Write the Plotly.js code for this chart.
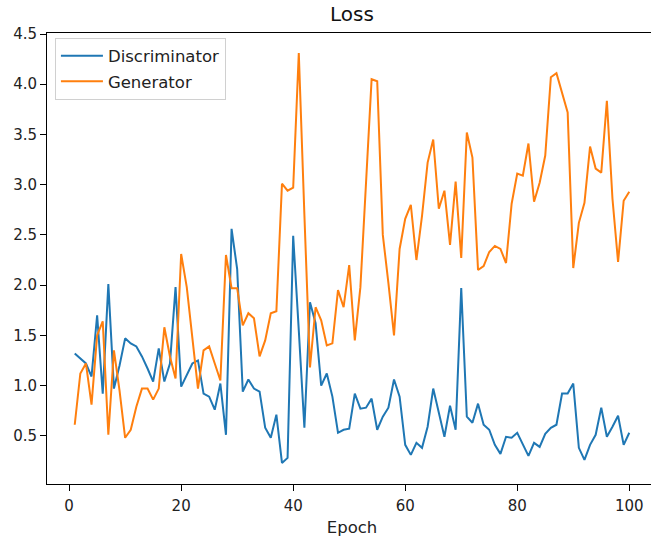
<!DOCTYPE html>
<html>
<head>
<meta charset="utf-8">
<script src="https://cdn.plot.ly/plotly-3.0.1.min.js"></script>
<style>
html,body{margin:0;padding:0;overflow:hidden;background:#fff;}
#chart{width:660px;height:537px;}
</style>
</head>
<body>
<div id="chart"></div>
<script>
const epochs = Array.from({length: 100}, (_, i) => i + 1);

const discriminatorLoss = [
  1.32, 1.27, 1.22, 1.09, 1.70, 0.92, 2.01, 0.97, 1.20, 1.47,
  1.42, 1.39, 1.29, 1.17, 1.04, 1.37, 1.04, 1.22, 1.98, 0.99,
  1.11, 1.22, 1.25, 0.92, 0.89, 0.76, 1.02, 0.51, 2.56, 2.16,
  0.94, 1.06, 0.97, 0.94, 0.58, 0.48, 0.71, 0.23, 0.28, 2.49,
  1.55, 0.58, 1.83, 1.62, 1.00, 1.12, 0.89, 0.53, 0.56, 0.57,
  0.92, 0.77, 0.78, 0.87, 0.56, 0.69, 0.78, 1.06, 0.89, 0.41,
  0.31, 0.43, 0.38, 0.59, 0.97, 0.74, 0.49, 0.80, 0.56, 1.97,
  0.69, 0.63, 0.82, 0.61, 0.56, 0.41, 0.32, 0.49, 0.48, 0.53,
  0.41, 0.30, 0.43, 0.39, 0.52, 0.58, 0.61, 0.92, 0.92, 1.02,
  0.38, 0.26, 0.41, 0.51, 0.78, 0.49, 0.59, 0.70, 0.41, 0.53
];

const generatorLoss = [
  0.61, 1.12, 1.22, 0.81, 1.50, 1.64, 0.51, 1.35, 0.95, 0.48,
  0.56, 0.79, 0.97, 0.97, 0.86, 0.97, 1.58, 1.29, 1.07, 2.31,
  1.98, 1.49, 0.97, 1.35, 1.39, 1.22, 1.05, 2.30, 1.97, 1.97,
  1.60, 1.72, 1.67, 1.29, 1.45, 1.72, 1.74, 3.01, 2.94, 2.97,
  4.31, 2.70, 1.18, 1.78, 1.65, 1.40, 1.42, 1.95, 1.78, 2.20,
  1.45, 1.98, 3.00, 4.05, 4.03, 2.50, 2.02, 1.50, 2.36, 2.66,
  2.80, 2.25, 2.69, 3.22, 3.45, 2.76, 2.94, 2.40, 3.03, 2.27,
  3.52, 3.27, 2.15, 2.19, 2.33, 2.39, 2.36, 2.22, 2.81, 3.11,
  3.09, 3.41, 2.83, 3.02, 3.29, 4.07, 4.11, 3.92, 3.72, 2.17,
  2.62, 2.82, 3.38, 3.16, 3.12, 3.835, 2.86, 2.23, 2.84, 2.93
];

const xTicks = [0, 20, 40, 60, 80, 100];
const yTicks = [0.5, 1.0, 1.5, 2.0, 2.5, 3.0, 3.5, 4.0, 4.5];
const yTickText = ['0.5', '1.0', '1.5', '2.0', '2.5', '3.0', '3.5', '4.0', '4.5'];

const font = 'DejaVu Sans, Liberation Sans, sans-serif';

const traces = [
  {x: epochs, y: discriminatorLoss, type: 'scatter', mode: 'lines', name: 'Discriminator',
   legendgroup: 'd', line: {color: '#1f77b4', width: 2}},
  {x: epochs, y: generatorLoss, type: 'scatter', mode: 'lines', name: 'Generator',
   legendgroup: 'g', line: {color: '#ff7f0e', width: 2}}
];

const axisCommon = {
  showgrid: false, zeroline: false, showline: true, mirror: true,
  linecolor: '#000', linewidth: 1, ticks: 'outside', ticklen: 6,
  tickwidth: 1, tickcolor: '#000', tickfont: {family: font, size: 15, color: '#222'}
};

const layout = {
  width: 660, height: 537,
  margin: {l: 47, r: 3, t: 33, b: 53},
  paper_bgcolor: '#fff', plot_bgcolor: '#fff',
  font: {family: font, color: '#222'},
  title: {text: 'Loss', font: {family: font, size: 20, color: '#111'},
          x: 0.5, xref: 'paper', y: 0.974, yref: 'container', yanchor: 'middle'},
  xaxis: Object.assign({}, axisCommon, {
    range: [-3.95, 104.95], tickvals: xTicks, ticktext: xTicks.map(String),
    ticklabelstandoff: 2,
    title: {text: 'Epoch', font: {family: font, size: 16.5, color: '#222'}, standoff: 8}
  }),
  yaxis: Object.assign({}, axisCommon, {
    range: [0.02, 4.51], tickvals: yTicks, ticktext: yTickText
  }),
  showlegend: true,
  legend: {x: 0.013, y: 0.99, xanchor: 'left', yanchor: 'top',
           bgcolor: 'rgba(255,255,255,0.8)', bordercolor: '#d0d0d0', borderwidth: 1,
           font: {family: font, size: 16.5, color: '#222'},
           itemwidth: 42,
           traceorder: 'grouped', tracegroupgap: 1}
};

Plotly.newPlot('chart', traces, layout, {displayModeBar: false, staticPlot: true});
</script>
</body>
</html>
